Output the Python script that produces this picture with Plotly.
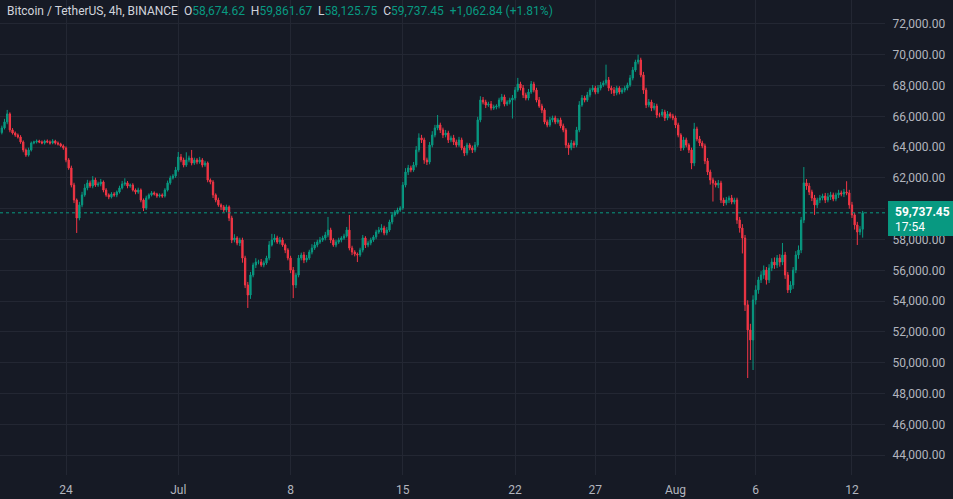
import pandas as pd
import plotly.graph_objects as go

# ---- data (prices in thousands of USDT), 4h candles from 2024-06-20 00:00 ----
start_time = "2024-06-20 00:00"
first_open = 64.95
closes = [
    65.25, 65.64, 66.16, 65.12, 64.92, 64.79,   # Jun 20
    64.66, 64.34, 63.82, 63.49, 63.82, 64.27,   # Jun 21
    64.34, 64.40, 64.34, 64.27, 64.40, 64.34,   # Jun 22
    64.27, 64.40, 64.27, 64.21, 64.08, 63.95,   # Jun 23
    63.17, 62.65, 61.54, 60.57, 59.40, 60.25,   # Jun 24
    60.90, 61.35, 61.68, 61.48, 61.87, 61.54,   # Jun 25
    61.61, 61.74, 61.22, 60.90, 60.77, 60.96,   # Jun 26
    60.90, 61.09, 61.35, 61.61, 61.68, 61.48,   # Jun 27
    61.54, 61.22, 61.09, 61.22, 60.57, 60.05,   # Jun 28
    60.70, 60.90, 61.03, 60.96, 60.83, 60.90,   # Jun 29
    60.83, 61.22, 61.68, 62.00, 62.13, 62.52,   # Jun 30
    63.36, 63.17, 62.84, 63.17, 63.30, 62.97,   # Jul 1
    63.17, 63.04, 63.17, 62.84, 62.97, 61.87,   # Jul 2
    61.74, 60.90, 60.57, 60.25, 60.12, 59.92,   # Jul 3
    60.12, 59.40, 57.97, 58.10, 57.78, 57.97,   # Jul 4
    56.80, 55.05, 54.40, 55.70, 56.35, 56.54,   # Jul 5
    56.54, 56.35, 56.48, 56.80, 57.65, 57.97,   # Jul 6
    58.10, 57.84, 57.97, 57.65, 57.32, 56.80,   # Jul 7
    56.02, 55.05, 55.70, 56.80, 57.00, 56.67,   # Jul 8
    56.80, 57.19, 57.45, 57.65, 57.84, 57.97,   # Jul 9
    58.10, 58.30, 58.62, 57.97, 57.65, 57.84,   # Jul 10
    57.97, 58.10, 58.23, 58.62, 57.45, 57.19,   # Jul 11
    57.06, 57.00, 57.32, 58.10, 57.65, 57.78,   # Jul 12
    57.97, 58.17, 58.49, 58.62, 58.75, 58.43,   # Jul 13
    58.62, 59.14, 59.60, 59.79, 59.92, 60.05,   # Jul 14
    61.54, 62.39, 62.65, 62.52, 62.84, 63.82,   # Jul 15
    64.60, 64.47, 63.17, 63.04, 64.14, 64.79,   # Jul 16
    65.25, 65.44, 65.12, 64.79, 64.92, 64.47,   # Jul 17
    64.60, 64.34, 64.14, 64.47, 63.95, 63.62,   # Jul 18
    64.14, 63.95, 63.82, 64.14, 65.77, 67.06,   # Jul 19
    66.93, 66.74, 66.80, 66.54, 66.61, 66.67,   # Jul 20
    67.06, 67.26, 66.80, 66.93, 67.06, 67.19,   # Jul 21
    67.71, 68.10, 67.84, 67.39, 67.19, 67.58,   # Jul 22
    68.10, 67.71, 67.06, 66.67, 66.41, 65.64,   # Jul 23
    65.44, 65.77, 65.90, 65.64, 65.77, 65.38,   # Jul 24
    65.12, 64.14, 63.95, 64.27, 64.14, 65.12,   # Jul 25
    66.74, 67.19, 67.06, 67.39, 67.71, 67.84,   # Jul 26
    67.58, 67.84, 68.04, 68.17, 68.36, 67.84,   # Jul 27
    67.71, 67.52, 67.84, 67.58, 67.71, 67.84,   # Jul 28
    68.04, 68.49, 69.01, 69.53, 69.66, 68.69,   # Jul 29
    67.71, 66.74, 66.93, 66.54, 66.67, 66.09,   # Jul 30
    66.09, 66.28, 65.90, 66.15, 66.02, 65.90,   # Jul 31
    65.44, 64.79, 63.95, 64.47, 64.14, 63.82,   # Aug 1
    62.97, 65.18, 64.53, 64.27, 64.08, 63.10,   # Aug 2
    62.39, 61.87, 61.67, 61.54, 61.67, 60.57,   # Aug 3
    60.38, 60.57, 60.70, 60.44, 60.57, 59.27,   # Aug 4
    58.75, 58.10, 53.76, 52.13, 51.48, 54.08,   # Aug 5
    54.73, 55.38, 55.70, 56.02, 55.38, 56.15,   # Aug 6
    56.54, 56.35, 56.80, 56.54, 57.00, 55.70,   # Aug 7
    54.73, 55.05, 56.02, 57.00, 57.32, 59.27,   # Aug 8
    61.68, 61.48, 61.09, 60.70, 60.25, 60.57,   # Aug 9
    60.70, 60.83, 60.57, 60.77, 60.90, 60.64,   # Aug 10
    60.90, 61.03, 60.96, 61.09, 61.03, 60.25,   # Aug 11
    59.60, 58.95, 58.49, 58.67462, 59.73745,    # Aug 12
]
upper_wicks = [
    .15, .20, .26, .10, .12, .10,
    .10, .12, .10, .10, .15, .10,
    .08, .10, .08, .10, .08, .10,
    .10, .12, .08, .10, .08, .10,
    .10, .12, .15, .15, .10, .20,
    .20, .25, .20, .15, .25, .15,
    .15, .20, .10, .12, .10, .12,
    .12, .10, .15, .20, .30, .12,
    .10, .12, .10, .15, .10, .10,
    .15, .10, .12, .10, .08, .10,
    .10, .12, .15, .15, .12, .20,
    .33, .20, .15, .50, .15, .52,
    .15, .12, .20, .12, .15, .10,
    .10, .12, .10, .15, .10, .12,
    .15, .10, .15, .25, .12, .15,
    .15, .15, .20, .20, .15, .25,
    .15, .20, .15, .15, .25, .40,
    .25, .15, .20, .15, .10, .12,
    .15, .20, .15, .20, .15, .20,
    .20, .15, .25, .20, .15, .20,
    .15, .20, .85, .15, .12, .15,
    .15, .12, .15, .20, .98, .15,
    .12, .10, .15, .20, .12, .15,
    .15, .12, .15, .20, .25, .15,
    .20, .15, .15, .12, .15, .12,
    .20, .25, .20, .15, .20, .25,
    .30, .20, .15, .15, .20, .25,
    .20, .65, .15, .15, .20, .15,
    .15, .20, .15, .20, .15, .12,
    .15, .12, .15, .20, .20, .25,
    .20, .15, .15, .20, .15, .12,
    .15, .20, .15, .12, .15, .20,
    .20, .40, .15, .20, .15, .20,
    .20, .15, .15, .20, .15, .12,
    .15, .20, .15, .15, .12, .15,
    .15, .12, .15, .20, .15, .20,
    .25, .20, .15, .20, .15, .20,
    .15, .20, .20, .15, 1.0, .20,
    .15, .20, .15, .12, .15, .15,
    .15, .20, .20, .15, .35, .15,
    .20, .15, .20, .15, .20, .15,
    .15, .20, .15, .20, .12, .15,
    .15, .15, .12, .20, .15, .12,
    .15, .40, .15, .20, .15, .15,
    .20, .15, .15, .15, .20, .15,
    .15, .20, .15, .20, .15, .15,
    .20, .25, .20, .30, .40, .30,
    .30, .20, .25, .30, .20, .25,
    .25, .30, .20, .25, .78, .20,
    .20, .25, .20, .25, .30, .20,
    1.03, .25, .20, .15, .20, .15,
    .20, .15, .20, .25, .20, .15,
    .15, .20, .15, .20, .70, .20,
    .20, .15, .20, .20, .12422,
]
lower_wicks = [
    .12, .10, .15, .15, .10, .12,
    .10, .12, .15, .12, .10, .10,
    .08, .10, .08, .08, .10, .08,
    .10, .08, .10, .10, .08, .12,
    .15, .12, .15, .20, .97, .15,
    .15, .12, .15, .12, .15, .12,
    .12, .15, .15, .12, .15, .10,
    .12, .15, .10, .10, .12, .15,
    .12, .10, .15, .12, .15, .20,
    .12, .10, .10, .10, .12, .10,
    .12, .10, .10, .12, .10, .12,
    .12, .15, .15, .12, .15, .15,
    .12, .15, .12, .15, .12, .15,
    .15, .20, .15, .12, .20, .15,
    .15, .20, .20, .15, .15, .20,
    .30, .20, .84, .25, .15, .20,
    .15, .12, .15, .12, .15, .10,
    .15, .12, .15, .12, .20, .15,
    .20, .85, .20, .15, .15, .20,
    .15, .12, .15, .12, .15, .12,
    .12, .15, .15, .20, .12, .15,
    .12, .15, .12, .10, .15, .20,
    .15, .46, .12, .15, .20, .15,
    .15, .12, .15, .12, .15, .15,
    .15, .12, .15, .12, .15, .12,
    .12, .15, .20, .15, .12, .15,
    .15, .20, .25, .20, .15, .15,
    .15, .15, .20, .20, .15, .20,
    .15, .20, .15, .12, .15, .20,
    .15, .15, .20, .15, .12, .15,
    .15, .20, .12, .15, .12, .15,
    .15, .12, .15, .12, .15, 1.2,
    .15, .12, .15, .20, .15, .15,
    .12, .15, .15, .12, .20, .15,
    .15, .12, .15, .15, .12, .15,
    .15, .20, .45, .15, .20, .15,
    .15, .12, .15, .12, .15, .12,
    .15, .12, .15, .12, .15, .20,
    .25, .20, .15, .15, .12, .15,
    .15, .12, .15, .12, .15, .15,
    .25, .20, .15, .20, .15, .20,
    .15, .12, .20, .15, .15, .15,
    .20, .15, .20, .15, .15, .20,
    .40, .20, .15, .20, .15, .20,
    .20, .30, 1.2, .15, .20, .20,
    .20, .15, .20, .15, .15, .25,
    .30, 1.0, .40, 3.12, 1.30, 1.95,
    .30, .25, .20, .25, .30, .20,
    .20, .25, .20, .30, .20, .25,
    .20, .20, .25, .20, .25, .20,
    .20, .25, .20, .20, .65, .20,
    .20, .15, .20, .15, .20, .15,
    .15, .20, .15, .20, .15, .25,
    .20, .30, .84, .20, .54887,
]
y_ticks = [44000, 46000, 48000, 50000, 52000, 54000, 56000, 58000,
           60000, 62000, 64000, 66000, 68000, 70000, 72000]
x_tick_dates = ["2024-06-24", "2024-07-01", "2024-07-08", "2024-07-15", "2024-07-22",
                "2024-07-27", "2024-08-01", "2024-08-06", "2024-08-12"]
x_tick_labels = ["24", "Jul", "8", "15", "22", "27", "Aug", "6", "12"]
symbol_title = "Bitcoin / TetherUS, 4h, BINANCE"
ohlc_text = {"O": "58,674.62", "H": "59,861.67", "L": "58,125.75", "C": "59,737.45"}
change_text = "+1,062.84 (+1.81%)"
countdown = "17:54"

# ---- build OHLC ----
times = pd.date_range(start_time, periods=len(closes), freq="4h")
c = [v * 1000 for v in closes]
o = [first_open * 1000] + c[:-1]
h = [max(a, b) + u * 1000 for a, b, u in zip(o, c, upper_wicks)]
l = [min(a, b) - w * 1000 for a, b, w in zip(o, c, lower_wicks)]
last_price = c[-1]

UP = "#089981"
DOWN = "#F23645"
BG = "#161A25"
GRID = "#232733"
AXIS_TXT = "#B2B5BE"

fig = go.Figure(go.Candlestick(
    x=times, open=o, high=h, low=l, close=c,
    increasing=dict(line=dict(color=UP, width=1), fillcolor=UP),
    decreasing=dict(line=dict(color=DOWN, width=1), fillcolor=DOWN),
    whiskerwidth=0, hoverinfo="skip", showlegend=False,
))

fig.update_layout(
    width=953, height=499,
    margin=dict(l=0, r=68, t=0, b=24),
    paper_bgcolor=BG, plot_bgcolor=BG,
    font=dict(family="Roboto, sans-serif", size=12, color=AXIS_TXT),
    xaxis=dict(
        rangeslider=dict(visible=False),
        range=["2024-06-19 21:14", "2024-08-14 01:26"],
        tickvals=x_tick_dates, ticktext=x_tick_labels,
        showgrid=True, gridcolor=GRID, gridwidth=1,
        zeroline=False, showline=False,
        ticks="outside", ticklen=4, tickcolor=BG,
        tickfont=dict(size=12, color=AXIS_TXT),
    ),
    yaxis=dict(
        side="right",
        range=[42712, 73558],
        tickvals=y_ticks, tickformat=",.2f",
        showgrid=True, gridcolor=GRID, gridwidth=1,
        zeroline=False, showline=False,
        ticks="outside", ticklen=4, tickcolor=BG,
        tickfont=dict(size=12, color=AXIS_TXT),
    ),
)

# last price dotted line
fig.add_shape(type="line", xref="paper", x0=0, x1=1.004, yref="y",
              y0=last_price, y1=last_price,
              line=dict(color=UP, width=1, dash="dot"), layer="above")

# price label box on the axis
fig.add_shape(type="rect", xref="paper", x0=1.0034, x1=1.08, yref="y",
              y0=58233, y1=60506, fillcolor=UP, line=dict(width=0), layer="above")
fig.add_annotation(xref="paper", x=1.0085, xanchor="left", yref="y", y=last_price,
                   yshift=1, text=f"<b>{last_price:,.2f}</b>", showarrow=False,
                   font=dict(color="#FFFFFF", size=12, family="Roboto, sans-serif"))
fig.add_annotation(xref="paper", x=1.0085, xanchor="left", yref="y", y=last_price,
                   yshift=-14, text=countdown, showarrow=False,
                   font=dict(color="#FFFFFF", size=12, family="Roboto, sans-serif"))

# header legend
g = f"<span style='color:{UP}'>"
header = (f"<span style='color:#D1D4DC'>{symbol_title}</span>  "
          + "  ".join(f"<span style='color:#D1D4DC'>{k}</span>{g}{v}</span>" for k, v in ohlc_text.items())
          + f"  {g}{change_text}</span>")
fig.add_annotation(xref="paper", yref="paper", x=0, y=1, xshift=5, yshift=-11,
                   xanchor="left", yanchor="middle", text=header, showarrow=False,
                   font=dict(size=12, family="Roboto, sans-serif", color="#D1D4DC"))

fig.write_html("out.html")
